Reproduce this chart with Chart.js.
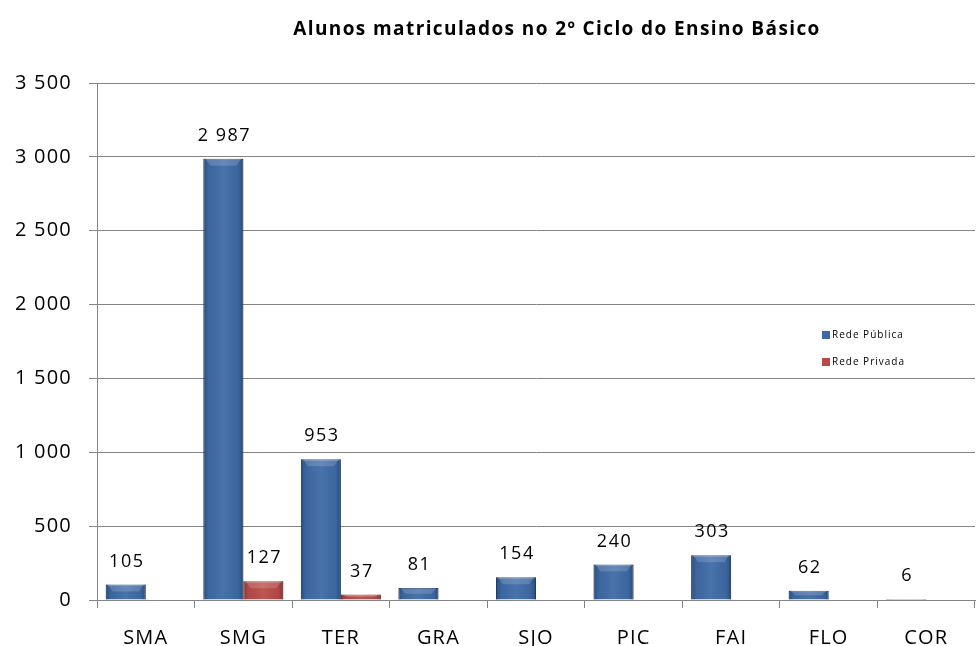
<!DOCTYPE html>
<html>
<head>
<meta charset="utf-8">
<script src="https://cdn.jsdelivr.net/npm/chart.js@4"></script>
<style>
html,body{margin:0;padding:0;background:#fff;}
#wrap{width:976px;height:646px;}
</style>
</head>
<body>
<div id="wrap"><canvas id="chart" width="976" height="646"></canvas></div>
<script>
// data
const categories = ["SMA","SMG","TER","GRA","SJO","PIC","FAI","FLO","COR"];
const redePublica = [105,2987,953,81,154,240,303,62,6];
const redePrivada = [null,127,37,null,null,null,null,null,null];
const yTicks = [0,500,1000,1500,2000,2500,3000,3500];
const chartTitle = "Alunos matriculados no 2º Ciclo do Ensino Básico";

const FONT = "'Open Sans', sans-serif";

function fmt(v){
  return String(v).replace(/\B(?=(\d{3})+(?!\d))/g, " ");
}

// shading + value labels + title + legend
const extras = {
  id: "extras",
  beforeDraw(chart){
    chart.ctx.letterSpacing = "1.2px";
  },
  afterDatasetsDraw(chart){
    const ctx = chart.ctx;
    chart.data.datasets.forEach((ds, di)=>{
      const meta = chart.getDatasetMeta(di);
      meta.data.forEach((bar, i)=>{
        const v = ds.data[i];
        if(v == null) return;
        const w = bar.width, left = bar.x - w/2, top = bar.y, h = bar.base - bar.y;
        // side shading
        let g = ctx.createLinearGradient(left, 0, left + w, 0);
        g.addColorStop(0, "rgba(0,0,0,0.28)");
        g.addColorStop(0.12, "rgba(0,0,0,0.05)");
        g.addColorStop(0.5, "rgba(255,255,255,0.06)");
        g.addColorStop(0.88, "rgba(0,0,0,0.05)");
        g.addColorStop(1, "rgba(0,0,0,0.3)");
        ctx.save();
        ctx.fillStyle = g;
        ctx.fillRect(left, top, w, h);
        // top highlight
        const th = Math.min(7, h/2);
        if(th > 1){
          ctx.fillStyle = "rgba(255,255,255,0.16)";
          ctx.beginPath();
          ctx.moveTo(left+2, top);
          ctx.lineTo(left+w-2, top);
          ctx.lineTo(left+w-7, top+th);
          ctx.lineTo(left+7, top+th);
          ctx.closePath();
          ctx.fill();
        }
        ctx.restore();
        // value label
        ctx.save();
        ctx.font = "18px " + FONT;
        ctx.letterSpacing = "1.5px";
        ctx.fillStyle = "#000";
        ctx.textAlign = "center";
        ctx.textBaseline = "middle";
        ctx.fillText(fmt(v), bar.x + 1, bar.y - 23);
        ctx.restore();
      });
    });
  },
  afterDraw(chart){
    const ctx = chart.ctx;
    ctx.save();
    ctx.font = "bold 19px " + FONT;
    ctx.letterSpacing = "1.4px";
    ctx.fillStyle = "#000";
    ctx.textAlign = "center";
    ctx.textBaseline = "middle";
    ctx.fillText(chartTitle, 557, 30);
    // legend
    ctx.font = "10px " + FONT;
    ctx.letterSpacing = "1px";
    ctx.textAlign = "left";
    chart.data.datasets.forEach((ds, di)=>{
      const y = 335 + di*27;
      ctx.fillStyle = ds.backgroundColor;
      ctx.fillRect(822, y-4, 8, 8);
      ctx.fillStyle = "#000";
      ctx.fillText(ds.label, 832, y);
    });
    ctx.restore();
  }
};

new Chart(document.getElementById("chart"), {
  type: "bar",
  data: {
    labels: categories,
    datasets: [
      {label: "Rede Pública", data: redePublica, backgroundColor: "#3E6AA6", borderColor: "#2D5185", borderWidth: 1},
      {label: "Rede Privada", data: redePrivada, backgroundColor: "#B84B48", borderColor: "#8E3432", borderWidth: 1}
    ]
  },
  options: {
    responsive: false,
    animation: false,
    layout: {padding: {top: 83, right: 1, left: 0, bottom: 0}},
    datasets: {bar: {categoryPercentage: 0.82, barPercentage: 1.0}},
    plugins: {legend: {display: false}, title: {display: false}, tooltip: {enabled: false}},
    scales: {
      x: {
        grid: {display: true, drawOnChartArea: false, offset: true, tickLength: 8, color: "#858585"},
        border: {color: "#858585"},
        ticks: {color: "#000", font: {size: 20, family: FONT}, padding: 18},
        afterFit(s){ s.height = 46; }
      },
      y: {
        min: 0, max: 3500,
        afterBuildTicks(s){ s.ticks = yTicks.map(v=>({value: v})); },
        grid: {color: "#858585", tickLength: 8},
        border: {color: "#858585"},
        ticks: {color: "#000", font: {size: 20, family: FONT}, padding: 17, callback: v=>fmt(v)},
        afterFit(s){ s.width = 97; }
      }
    }
  },
  plugins: [extras]
});
</script>
</body>
</html>
